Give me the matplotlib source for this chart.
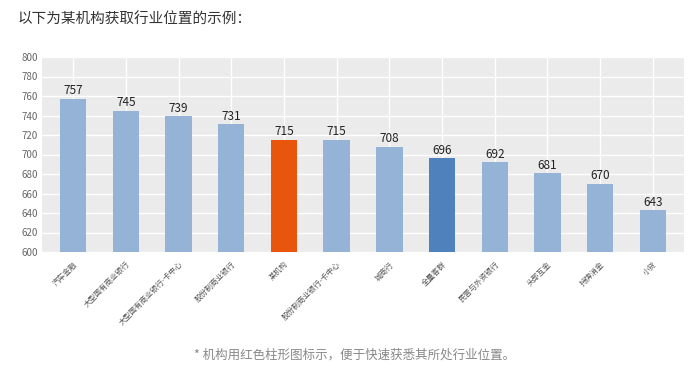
import matplotlib
matplotlib.use("Agg")
import matplotlib.pyplot as plt

plt.rcParams['font.family'] = ['Noto Sans CJK SC', 'DejaVu Sans']

categories = ["汽车金融", "大型国有商业银行", "大型国有商业银行-卡中心", "股份制商业银行", "某机构",
              "股份制商业银行-卡中心", "城商行", "全量客群", "民营与外资银行", "头部互金", "持牌消金", "小贷"]
values = [757, 745, 739, 731, 715, 715, 708, 696, 692, 681, 670, 643]
highlight = "某机构"
overall = "全量客群"
yticks = list(range(600, 801, 20))

colors = []
for c in categories:
    if c == highlight:
        colors.append("#E8560E")
    elif c == overall:
        colors.append("#4F81BD")
    else:
        colors.append("#95B3D7")

fig = plt.figure(figsize=(7.0, 3.73), dpi=100)
ax = fig.add_axes([42/700, 1-252/373, 642/700, 195/373])
ax.set_facecolor("#EBEBEB")
x = list(range(len(categories)))
ax.bar(x, [v - 600 for v in values], bottom=600, width=0.5, color=colors, zorder=3)
for xi, v in zip(x, values):
    ax.text(xi, v + 1.5, str(v), ha="center", va="bottom", fontsize=8.5, color="#222222", zorder=4)
ax.set_ylim(600, 800)
ax.set_xlim(-0.59, len(categories) - 0.41)
ax.set_yticks(yticks)
ax.set_yticklabels([str(t) for t in yticks], fontsize=7, color="#666666")
ax.set_xticks(x)
ax.set_xticklabels(categories, rotation=45, ha="right", rotation_mode="anchor", fontsize=5.5, color="#555555")
ax.grid(True, color="white", linewidth=1.0, zorder=0)
ax.set_axisbelow(True)
ax.tick_params(axis="x", length=0, pad=6)
ax.tick_params(axis="y", length=0, pad=3)
for s in ax.spines.values():
    s.set_visible(False)

fig.text(18/700, 1-20/373, "以下为某机构获取行业位置的示例：", fontsize=10.5, color="#333333", va="center", ha="left")
fig.text(355/700, 1-355/373, "* 机构用红色柱形图标示，便于快速获悉其所处行业位置。", fontsize=9, color="#888888", va="center", ha="center")

fig.savefig("out.png", dpi=100)
